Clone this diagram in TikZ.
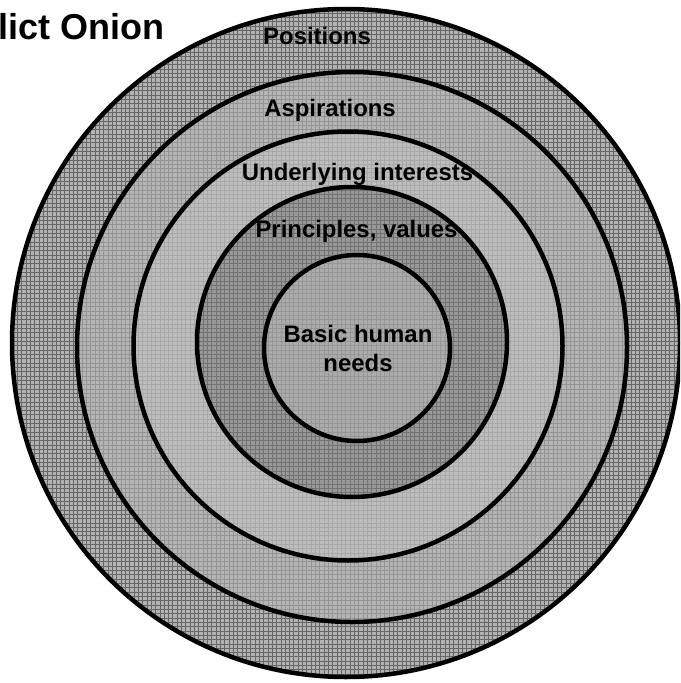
\documentclass[tikz,border=0pt]{standalone}
\usepackage{fontspec}
\setmainfont{Liberation Sans}
\definecolor{posbg}{gray}{0.70}
\definecolor{posgrid}{gray}{0.40}
\definecolor{aspbg}{gray}{0.71}
\definecolor{aspgrid}{gray}{0.58}
\definecolor{intbg}{gray}{0.74}
\definecolor{intgrid}{gray}{0.66}
\definecolor{valbg}{gray}{0.60}
\definecolor{valgrid}{gray}{0.45}
\definecolor{needbg}{gray}{0.67}
\definecolor{needgrid}{gray}{0.59}

\begin{document}
\begin{tikzpicture}[x=0.025cm, y=-0.025cm,
      ring/.style={draw=black, line width=3.2pt},
      gridline/.style={line width=0.5pt, step=0.108cm},
      layer/.style={font=\bfseries\fontsize{17}{20.6}\selectfont, inner sep=0pt, anchor=base},
      heading/.style={font=\bfseries\fontsize{25.6}{30}\selectfont, inner sep=0pt, anchor=base east}
    ]
      \useasboundingbox (0,0) rectangle (680,683);
      \clip (0,0) rectangle (680,683);
      % rings, outside in
      \fill[posbg] (346,343) circle (334);
      \begin{scope}
        \clip (346,343) circle (334);
        \draw[gridline, posgrid] (0,683) grid (680,0);
      \end{scope}
      \fill[aspbg] (352,347) circle (275);
      \begin{scope}
        \clip (352,347) circle (275);
        \draw[gridline, aspgrid] (0,683) grid (680,0);
      \end{scope}
      \fill[intbg] (348,346) circle (214.5);
      \begin{scope}
        \clip (348,346) circle (214.5);
        \draw[gridline, intgrid] (0,683) grid (680,0);
      \end{scope}
      \fill[valbg] (352,342) circle (155);
      \begin{scope}
        \clip (352,342) circle (155);
        \draw[gridline, valgrid] (0,683) grid (680,0);
      \end{scope}
      \fill[needbg] (357,348) circle (93);
      \begin{scope}
        \clip (357,348) circle (93);
        \draw[gridline, needgrid] (0,683) grid (680,0);
      \end{scope}
      \draw[ring] (346,343) circle (334);
      \draw[ring] (352,347) circle (275);
      \draw[ring] (348,346) circle (214.5);
      \draw[ring] (352,342) circle (155);
      \draw[ring] (357,348) circle (93);
      % labels
      \node[heading] (title) at (165,40) {Conflict Onion};
      \node[layer] (positions) at (317,45) {Positions};
      \node[layer] (aspirations) at (330,116) {Aspirations};
      \node[layer] (interests) at (357.5,180) {Underlying interests};
      \node[layer] (values) at (356.5,237) {Principles, values};
      \node[layer, align=center] (needs) at (358,371) {Basic human\\needs};
    \end{tikzpicture}
\end{document}
